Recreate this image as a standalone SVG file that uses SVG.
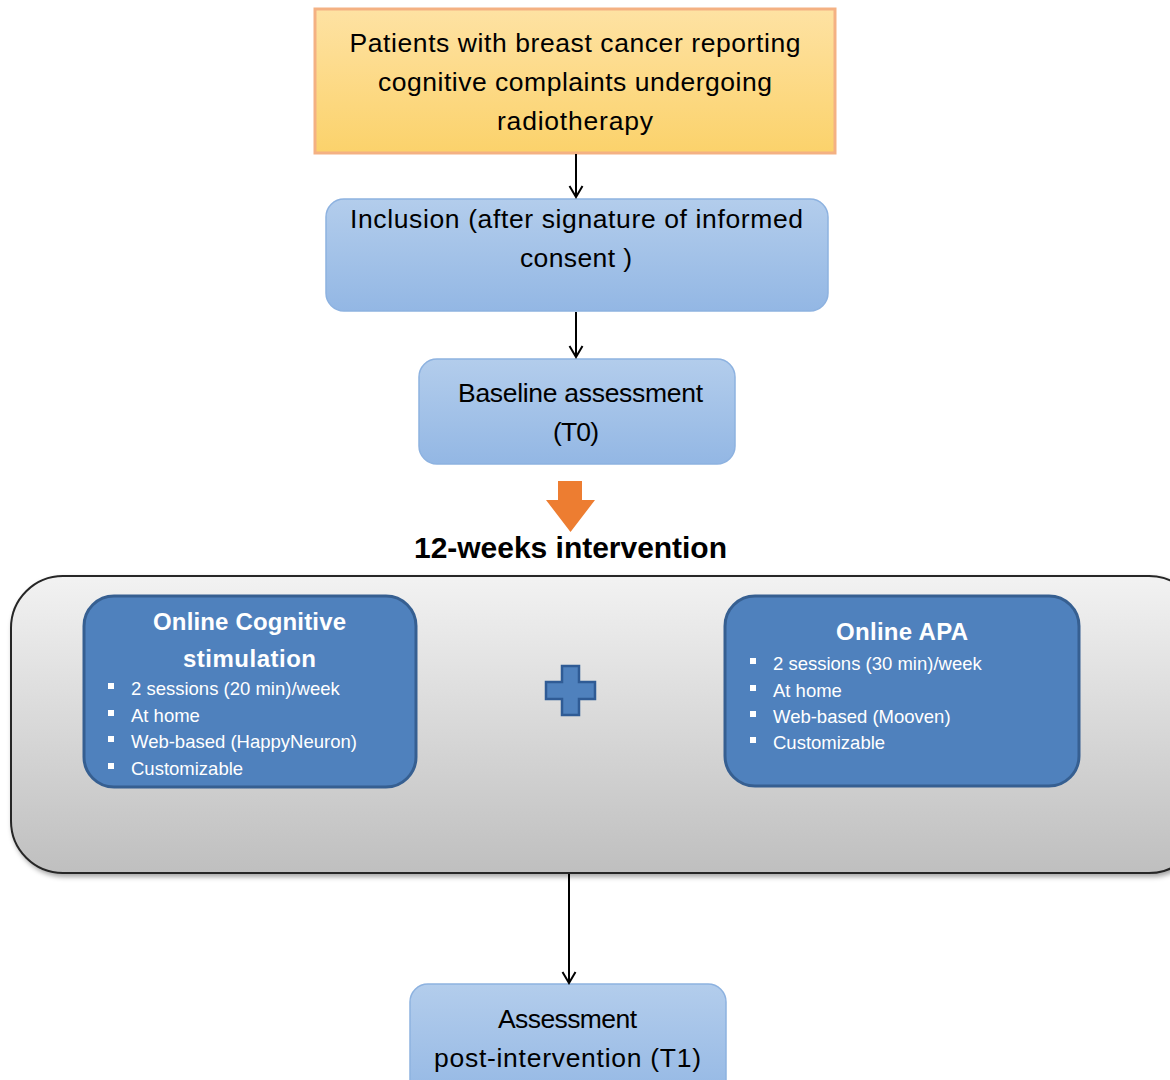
<svg xmlns="http://www.w3.org/2000/svg" width="1170" height="1080" viewBox="0 0 1170 1080">
<defs>
<linearGradient id="gOrange" x1="0" y1="0" x2="0" y2="1"><stop offset="0" stop-color="#fee2a3"/><stop offset="1" stop-color="#fbd26b"/></linearGradient>
<linearGradient id="gBlue" x1="0" y1="0" x2="0" y2="1"><stop offset="0" stop-color="#b3cdec"/><stop offset="1" stop-color="#93b7e4"/></linearGradient>
<linearGradient id="gGray" x1="0" y1="0" x2="0" y2="1"><stop offset="0" stop-color="#f2f2f2"/><stop offset="1" stop-color="#bfbfbf"/></linearGradient>
<filter id="shadow" x="-5%" y="-5%" width="110%" height="115%"><feDropShadow dx="2" dy="3" stdDeviation="2.5" flood-color="#000" flood-opacity="0.35"/></filter>
<marker id="arr" viewBox="0 0 16 16" refX="14" refY="8" markerWidth="16" markerHeight="16" markerUnits="userSpaceOnUse" orient="auto">
<path d="M3,1.5 L14,8 L3,14.5" fill="none" stroke="#000" stroke-width="2"/>
</marker>
</defs>
<style>
.t{font-family:"Liberation Sans",Arial,sans-serif;fill:#000;text-anchor:middle}
.big{font-size:26.5px}
.title{font-family:"Liberation Sans",Arial,sans-serif;font-size:24px;font-weight:bold;fill:#fff;text-anchor:middle}
.bl{font-family:"Liberation Sans",Arial,sans-serif;font-size:18.5px;fill:#fff}
.blue{fill:url(#gBlue);stroke:#8db2e0;stroke-width:1.5}
.inner{fill:#4f81bd;stroke:#365f91;stroke-width:3}
.conn{stroke:#000;stroke-width:2;fill:none}
</style>

<g id="node-patients">
<rect x="315" y="9" width="520" height="144" fill="url(#gOrange)" stroke="#f4b183" stroke-width="3"/>
<text class="t big" x="575" y="52" textLength="451">Patients with breast cancer reporting</text>
<text class="t big" x="575" y="91" textLength="394">cognitive complaints undergoing</text>
<text class="t big" x="575" y="130" textLength="156">radiotherapy</text>
</g>

<g id="node-inclusion">
<rect class="blue" x="326" y="199" width="502" height="112" rx="18"/>
<text class="t big" x="576.5" y="228" textLength="453">Inclusion (after signature of informed</text>
<text class="t big" x="576" y="267" textLength="112">consent )</text>
</g>

<g id="node-baseline">
<rect class="blue" x="419" y="359" width="316" height="105" rx="18"/>
<text class="t big" x="580.5" y="402" textLength="245">Baseline assessment</text>
<text class="t big" x="576" y="441" textLength="46">(T0)</text>
</g>

<g id="node-intervention-arrow">
<path d="M558,481 H582 V500 H595 L570.5,532 L546,500 H558 Z" fill="#ed7d31"/>
<text class="t" x="570.5" y="558" textLength="313" style="font-size:30px;font-weight:bold">12-weeks intervention</text>
</g>

<g id="node-intervention">
<rect x="11" y="576" width="1190" height="297" rx="52" fill="url(#gGray)" stroke="#262626" stroke-width="2" filter="url(#shadow)"/>
</g>

<g id="node-cognitive">
<rect class="inner" x="84" y="596" width="332" height="191" rx="30"/>
<text class="title" x="249.5" y="630" textLength="193">Online Cognitive</text>
<text class="title" x="249.5" y="667" textLength="133">stimulation</text>
<g class="bl">
<rect x="108" y="683" width="6" height="6"/><text x="131" y="695">2 sessions (20 min)/week</text>
<rect x="108" y="710" width="6" height="6"/><text x="131" y="722">At home</text>
<rect x="108" y="736" width="6" height="6"/><text x="131" y="748">Web-based (HappyNeuron)</text>
<rect x="108" y="763" width="6" height="6"/><text x="131" y="775">Customizable</text>
</g>
</g>

<g id="node-plus">
<path d="M562,666 H579 V682 H595 V699 H579 V715 H562 V699 H546 V682 H562 Z" fill="#4f81bd" stroke="#2f5b95" stroke-width="2.5"/>
</g>

<g id="node-apa">
<rect class="inner" x="725" y="596" width="354" height="190" rx="30"/>
<text class="title" x="902" y="640" textLength="132">Online APA</text>
<g class="bl">
<rect x="750" y="658" width="6" height="6"/><text x="773" y="670">2 sessions (30 min)/week</text>
<rect x="750" y="685" width="6" height="6"/><text x="773" y="697">At home</text>
<rect x="750" y="711" width="6" height="6"/><text x="773" y="723">Web-based (Mooven)</text>
<rect x="750" y="737" width="6" height="6"/><text x="773" y="749">Customizable</text>
</g>
</g>

<g id="node-assessment">
<rect class="blue" x="410" y="984" width="316" height="120" rx="18"/>
<text class="t big" x="567.5" y="1028" textLength="139">Assessment</text>
<text class="t big" x="567.5" y="1067" textLength="267">post-intervention  (T1)</text>
</g>

<g id="connectors">
<line class="conn" x1="576" y1="154" x2="576" y2="197" marker-end="url(#arr)"/>
<line class="conn" x1="576" y1="312" x2="576" y2="357" marker-end="url(#arr)"/>
<line class="conn" x1="569" y1="874" x2="569" y2="983" marker-end="url(#arr)"/>
</g>
</svg>
